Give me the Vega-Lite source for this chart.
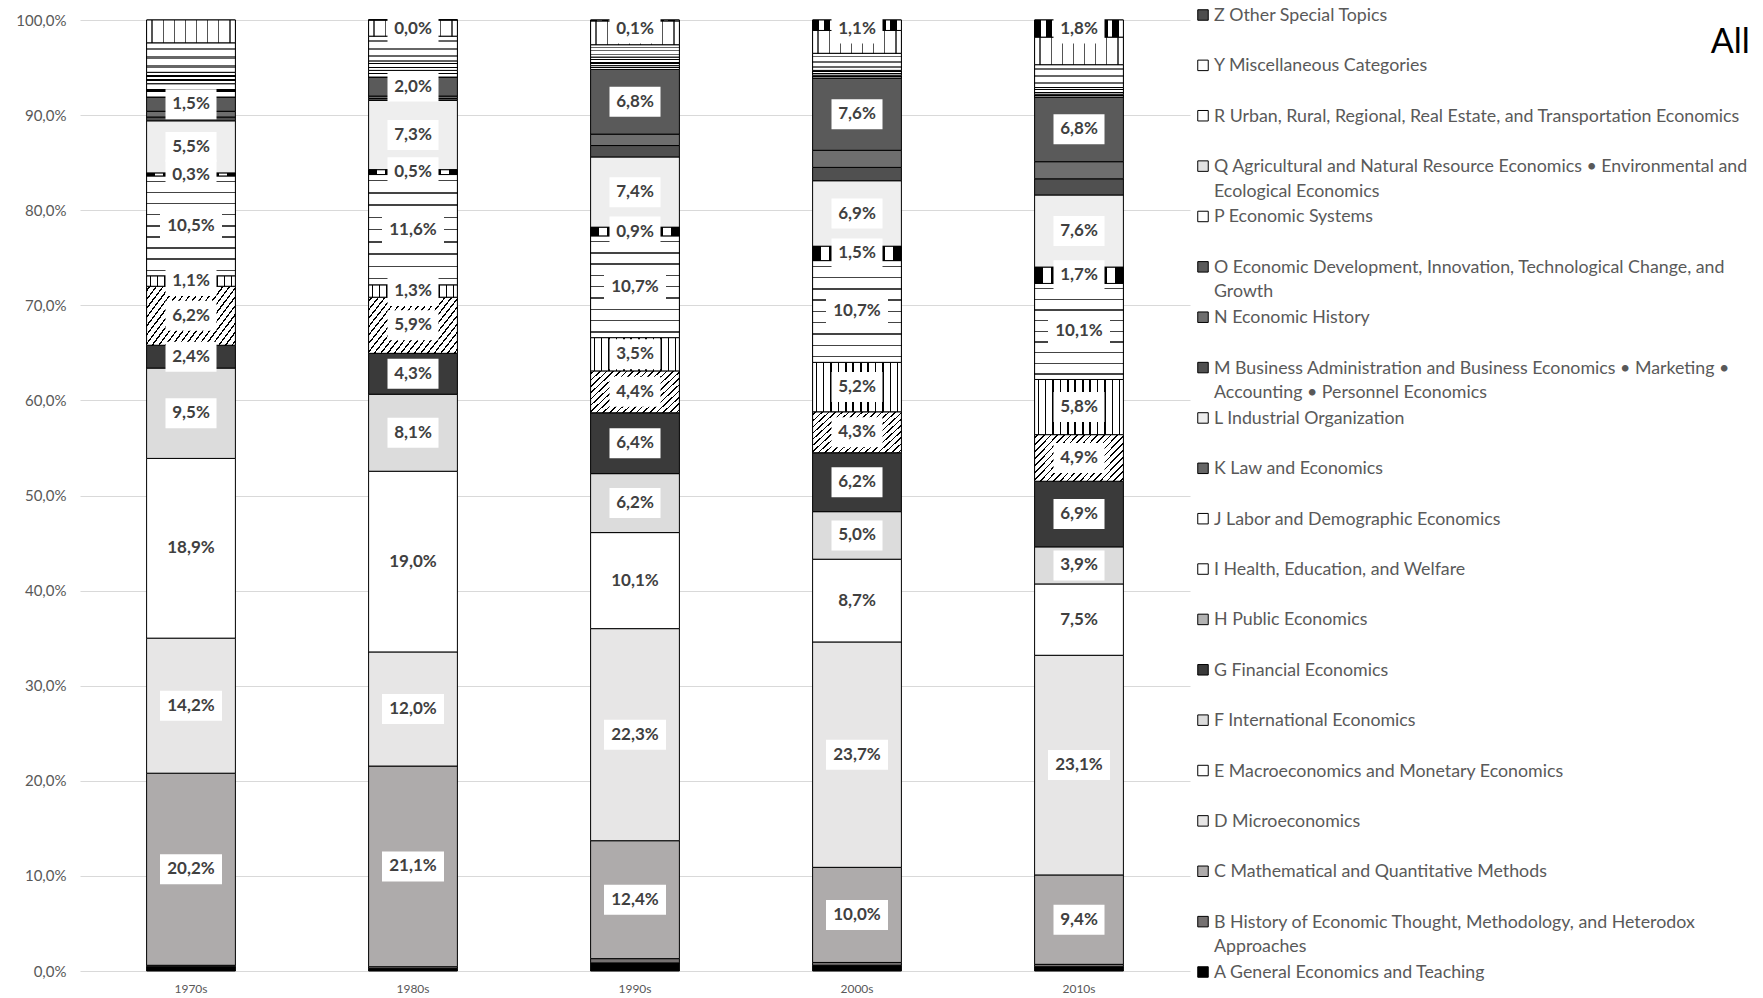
{
  "$schema": "https://vega.github.io/schema/vega-lite/v6.json",
  "background": "white",
  "padding": {"left": 15, "top": 6, "right": 0, "bottom": 0},
  "title": {"text": "All", "anchor": "end", "frame": "bounds", "fontSize": 34, "fontWeight": "normal", "color": "#000000", "font": "Lato", "baseline": "alphabetic", "offset": -80, "dx": 2},
  "datasets": {
    "shares": [
      {"d": "1970s", "k": "A", "v": 0.45}, {"d": "1970s", "k": "B", "v": 0.15}, {"d": "1970s", "k": "C", "v": 20.2}, {"d": "1970s", "k": "D", "v": 14.2},
      {"d": "1970s", "k": "E", "v": 18.9}, {"d": "1970s", "k": "F", "v": 9.5}, {"d": "1970s", "k": "G", "v": 2.4}, {"d": "1970s", "k": "H", "v": 6.2},
      {"d": "1970s", "k": "I", "v": 1.1}, {"d": "1970s", "k": "J", "v": 10.5}, {"d": "1970s", "k": "K", "v": 0.3}, {"d": "1970s", "k": "L", "v": 5.5},
      {"d": "1970s", "k": "M", "v": 0.4}, {"d": "1970s", "k": "N", "v": 0.6}, {"d": "1970s", "k": "O", "v": 1.5}, {"d": "1970s", "k": "P", "v": 1.4},
      {"d": "1970s", "k": "Q", "v": 1.2}, {"d": "1970s", "k": "R", "v": 3.1}, {"d": "1970s", "k": "Y", "v": 2.4},

      {"d": "1980s", "k": "A", "v": 0.25}, {"d": "1980s", "k": "B", "v": 0.2}, {"d": "1980s", "k": "C", "v": 21.1}, {"d": "1980s", "k": "D", "v": 12.0},
      {"d": "1980s", "k": "E", "v": 19.0}, {"d": "1980s", "k": "F", "v": 8.1}, {"d": "1980s", "k": "G", "v": 4.3}, {"d": "1980s", "k": "H", "v": 5.9},
      {"d": "1980s", "k": "I", "v": 1.3}, {"d": "1980s", "k": "J", "v": 11.6}, {"d": "1980s", "k": "K", "v": 0.5}, {"d": "1980s", "k": "L", "v": 7.3},
      {"d": "1980s", "k": "M", "v": 0.2}, {"d": "1980s", "k": "N", "v": 0.25}, {"d": "1980s", "k": "O", "v": 2.0}, {"d": "1980s", "k": "P", "v": 0.7},
      {"d": "1980s", "k": "Q", "v": 1.0}, {"d": "1980s", "k": "R", "v": 2.6}, {"d": "1980s", "k": "Y", "v": 1.7}, {"d": "1980s", "k": "Z", "v": 0.0},

      {"d": "1990s", "k": "A", "v": 0.85}, {"d": "1990s", "k": "B", "v": 0.45}, {"d": "1990s", "k": "C", "v": 12.4}, {"d": "1990s", "k": "D", "v": 22.3},
      {"d": "1990s", "k": "E", "v": 10.1}, {"d": "1990s", "k": "F", "v": 6.2}, {"d": "1990s", "k": "G", "v": 6.4}, {"d": "1990s", "k": "H", "v": 4.4},
      {"d": "1990s", "k": "I", "v": 3.5}, {"d": "1990s", "k": "J", "v": 10.7}, {"d": "1990s", "k": "K", "v": 0.9}, {"d": "1990s", "k": "L", "v": 7.4},
      {"d": "1990s", "k": "M", "v": 1.2}, {"d": "1990s", "k": "N", "v": 1.2}, {"d": "1990s", "k": "O", "v": 6.8}, {"d": "1990s", "k": "P", "v": 0.4},
      {"d": "1990s", "k": "Q", "v": 0.9}, {"d": "1990s", "k": "R", "v": 1.3}, {"d": "1990s", "k": "Y", "v": 2.5}, {"d": "1990s", "k": "Z", "v": 0.1},

      {"d": "2000s", "k": "A", "v": 0.6}, {"d": "2000s", "k": "B", "v": 0.3}, {"d": "2000s", "k": "C", "v": 10.0}, {"d": "2000s", "k": "D", "v": 23.7},
      {"d": "2000s", "k": "E", "v": 8.7}, {"d": "2000s", "k": "F", "v": 5.0}, {"d": "2000s", "k": "G", "v": 6.2}, {"d": "2000s", "k": "H", "v": 4.3},
      {"d": "2000s", "k": "I", "v": 5.2}, {"d": "2000s", "k": "J", "v": 10.7}, {"d": "2000s", "k": "K", "v": 1.5}, {"d": "2000s", "k": "L", "v": 6.9},
      {"d": "2000s", "k": "M", "v": 1.4}, {"d": "2000s", "k": "N", "v": 1.8}, {"d": "2000s", "k": "O", "v": 7.6}, {"d": "2000s", "k": "P", "v": 0.3},
      {"d": "2000s", "k": "Q", "v": 0.5}, {"d": "2000s", "k": "R", "v": 1.8}, {"d": "2000s", "k": "Y", "v": 2.4}, {"d": "2000s", "k": "Z", "v": 1.1},

      {"d": "2010s", "k": "A", "v": 0.45}, {"d": "2010s", "k": "B", "v": 0.25}, {"d": "2010s", "k": "C", "v": 9.4}, {"d": "2010s", "k": "D", "v": 23.1},
      {"d": "2010s", "k": "E", "v": 7.5}, {"d": "2010s", "k": "F", "v": 3.9}, {"d": "2010s", "k": "G", "v": 6.9}, {"d": "2010s", "k": "H", "v": 4.9},
      {"d": "2010s", "k": "I", "v": 5.8}, {"d": "2010s", "k": "J", "v": 10.1}, {"d": "2010s", "k": "K", "v": 1.7}, {"d": "2010s", "k": "L", "v": 7.6},
      {"d": "2010s", "k": "M", "v": 1.7}, {"d": "2010s", "k": "N", "v": 1.8}, {"d": "2010s", "k": "O", "v": 6.8}, {"d": "2010s", "k": "P", "v": 0.3},
      {"d": "2010s", "k": "Q", "v": 0.7}, {"d": "2010s", "k": "R", "v": 2.4}, {"d": "2010s", "k": "Y", "v": 2.9}, {"d": "2010s", "k": "Z", "v": 1.8}
    ],
    "cats": [
      {"k": "Z", "name": "Z Other Special Topics"},
      {"k": "Y", "name": "Y Miscellaneous Categories"},
      {"k": "R", "name": "R Urban, Rural, Regional, Real Estate, and Transportation Economics"},
      {"k": "Q", "name": "Q Agricultural and Natural Resource Economics • Environmental and\nEcological Economics"},
      {"k": "P", "name": "P Economic Systems"},
      {"k": "O", "name": "O Economic Development, Innovation, Technological Change, and\nGrowth"},
      {"k": "N", "name": "N Economic History"},
      {"k": "M", "name": "M Business Administration and Business Economics • Marketing •\nAccounting • Personnel Economics"},
      {"k": "L", "name": "L Industrial Organization"},
      {"k": "K", "name": "K Law and Economics"},
      {"k": "J", "name": "J Labor and Demographic Economics"},
      {"k": "I", "name": "I Health, Education, and Welfare"},
      {"k": "H", "name": "H Public Economics"},
      {"k": "G", "name": "G Financial Economics"},
      {"k": "F", "name": "F International Economics"},
      {"k": "E", "name": "E Macroeconomics and Monetary Economics"},
      {"k": "D", "name": "D Microeconomics"},
      {"k": "C", "name": "C Mathematical and Quantitative Methods"},
      {"k": "B", "name": "B History of Economic Thought, Methodology, and Heterodox\nApproaches"},
      {"k": "A", "name": "A General Economics and Teaching"}
    ]
  },
  "spacing": 5,
  "hconcat": [
    {
      "width": 1110,
      "height": 951,
      "data": {"name": "shares"},
      "transform": [
        {"stack": "v", "groupby": ["d"], "sort": [{"field": "k", "order": "ascending"}], "as": ["y0", "y1"]},
        {"calculate": "min((datum.y0 + datum.y1) / 2, 99.1)", "as": "ym"},
        {"calculate": "replace(format(datum.v, '.1f'), '.', ',') + '%'", "as": "lab"}
      ],
      "encoding": {
        "x": {
          "field": "d", "type": "nominal",
          "sort": ["1970s", "1980s", "1990s", "2000s", "2010s"],
          "scale": {"paddingInner": 0.6, "paddingOuter": 0.3},
          "axis": {"title": null, "labelAngle": 0, "domain": false, "ticks": false, "labelFontSize": 12, "labelColor": "#595959", "labelPadding": 12}
        }
      },
      "layer": [
        {
          "encoding": {
            "y": {
              "field": "y0", "type": "quantitative",
              "scale": {"domain": [0, 100], "nice": false},
              "axis": {
                "title": null,
                "values": [0, 10, 20, 30, 40, 50, 60, 70, 80, 90, 100],
                "labelExpr": "replace(format(datum.value, '.1f'), '.', ',') + '%'",
                "domain": false, "ticks": false,
                "gridColor": "#d9d9d9", "gridWidth": 1,
                "labelFontSize": 15, "labelColor": "#595959", "labelPadding": 14
              }
            },
            "y2": {"field": "y1"}
          },
          "layer": [
            {
              "mark": {"type": "bar", "stroke": "#000000", "strokeWidth": 1},
              "encoding": {
                "fill": {
                  "field": "k", "type": "nominal", "legend": null,
                  "scale": {
                    "domain": ["A", "B", "C", "D", "E", "F", "G", "H", "I", "J", "K", "L", "M", "N", "O", "P", "Q", "R", "Y", "Z"],
                    "range": ["#000000", "#757171", "#aeabab", "#e7e6e6", "#ffffff", "#dcdcdc", "#3a3a3a", "#b3b3b3", "#ffffff", "#ffffff", "#666666", "#eeeeee", "#505050", "#6e6e6e", "#5a5a5a", "#ffffff", "#e3e3e3", "#ffffff", "#ffffff", "#4d4d4d"]
                  }
                }
              }
            },
            {
              "transform": [{"filter": "datum.k === 'H'"}],
              "mark": {"type": "bar", "stroke": "#000000", "strokeWidth": 1, "fill": {
                "gradient": "linear", "x1": 0, "y1": 0, "x2": 1.2, "y2": 0.6,
                "stops": [
                  {"offset": 0, "color": "#fff"},
                  {"offset": 0.019, "color": "#fff"}, {"offset": 0.019, "color": "#000"}, {"offset": 0.031, "color": "#000"}, {"offset": 0.031, "color": "#fff"},
                  {"offset": 0.069, "color": "#fff"}, {"offset": 0.069, "color": "#000"}, {"offset": 0.081, "color": "#000"}, {"offset": 0.081, "color": "#fff"},
                  {"offset": 0.119, "color": "#fff"}, {"offset": 0.119, "color": "#000"}, {"offset": 0.131, "color": "#000"}, {"offset": 0.131, "color": "#fff"},
                  {"offset": 0.169, "color": "#fff"}, {"offset": 0.169, "color": "#000"}, {"offset": 0.181, "color": "#000"}, {"offset": 0.181, "color": "#fff"},
                  {"offset": 0.219, "color": "#fff"}, {"offset": 0.219, "color": "#000"}, {"offset": 0.231, "color": "#000"}, {"offset": 0.231, "color": "#fff"},
                  {"offset": 0.269, "color": "#fff"}, {"offset": 0.269, "color": "#000"}, {"offset": 0.281, "color": "#000"}, {"offset": 0.281, "color": "#fff"},
                  {"offset": 0.319, "color": "#fff"}, {"offset": 0.319, "color": "#000"}, {"offset": 0.331, "color": "#000"}, {"offset": 0.331, "color": "#fff"},
                  {"offset": 0.369, "color": "#fff"}, {"offset": 0.369, "color": "#000"}, {"offset": 0.381, "color": "#000"}, {"offset": 0.381, "color": "#fff"},
                  {"offset": 0.419, "color": "#fff"}, {"offset": 0.419, "color": "#000"}, {"offset": 0.431, "color": "#000"}, {"offset": 0.431, "color": "#fff"},
                  {"offset": 0.469, "color": "#fff"}, {"offset": 0.469, "color": "#000"}, {"offset": 0.481, "color": "#000"}, {"offset": 0.481, "color": "#fff"},
                  {"offset": 0.519, "color": "#fff"}, {"offset": 0.519, "color": "#000"}, {"offset": 0.531, "color": "#000"}, {"offset": 0.531, "color": "#fff"},
                  {"offset": 0.569, "color": "#fff"}, {"offset": 0.569, "color": "#000"}, {"offset": 0.581, "color": "#000"}, {"offset": 0.581, "color": "#fff"},
                  {"offset": 0.619, "color": "#fff"}, {"offset": 0.619, "color": "#000"}, {"offset": 0.631, "color": "#000"}, {"offset": 0.631, "color": "#fff"},
                  {"offset": 0.669, "color": "#fff"}, {"offset": 0.669, "color": "#000"}, {"offset": 0.681, "color": "#000"}, {"offset": 0.681, "color": "#fff"},
                  {"offset": 0.719, "color": "#fff"}, {"offset": 0.719, "color": "#000"}, {"offset": 0.731, "color": "#000"}, {"offset": 0.731, "color": "#fff"},
                  {"offset": 0.769, "color": "#fff"}, {"offset": 0.769, "color": "#000"}, {"offset": 0.781, "color": "#000"}, {"offset": 0.781, "color": "#fff"},
                  {"offset": 0.819, "color": "#fff"}, {"offset": 0.819, "color": "#000"}, {"offset": 0.831, "color": "#000"}, {"offset": 0.831, "color": "#fff"},
                  {"offset": 0.869, "color": "#fff"}, {"offset": 0.869, "color": "#000"}, {"offset": 0.881, "color": "#000"}, {"offset": 0.881, "color": "#fff"},
                  {"offset": 0.919, "color": "#fff"}, {"offset": 0.919, "color": "#000"}, {"offset": 0.931, "color": "#000"}, {"offset": 0.931, "color": "#fff"},
                  {"offset": 0.969, "color": "#fff"}, {"offset": 0.969, "color": "#000"}, {"offset": 0.981, "color": "#000"}, {"offset": 0.981, "color": "#fff"},
                  {"offset": 1, "color": "#fff"}
                ]
              }}
            },
            {
              "transform": [{"filter": "datum.k === 'I'"}],
              "mark": {"type": "bar", "stroke": "#000000", "strokeWidth": 1, "fill": {
                "gradient": "linear", "x1": 0, "y1": 0, "x2": 1, "y2": 0,
                "stops": [
                  {"offset": 0, "color": "#fff"},
                  {"offset": 0.0327, "color": "#fff"}, {"offset": 0.0327, "color": "#000"}, {"offset": 0.0507, "color": "#000"}, {"offset": 0.0507, "color": "#fff"},
                  {"offset": 0.116, "color": "#fff"}, {"offset": 0.116, "color": "#000"}, {"offset": 0.134, "color": "#000"}, {"offset": 0.134, "color": "#fff"},
                  {"offset": 0.1993, "color": "#fff"}, {"offset": 0.1993, "color": "#000"}, {"offset": 0.2173, "color": "#000"}, {"offset": 0.2173, "color": "#fff"},
                  {"offset": 0.2827, "color": "#fff"}, {"offset": 0.2827, "color": "#000"}, {"offset": 0.3007, "color": "#000"}, {"offset": 0.3007, "color": "#fff"},
                  {"offset": 0.366, "color": "#fff"}, {"offset": 0.366, "color": "#000"}, {"offset": 0.384, "color": "#000"}, {"offset": 0.384, "color": "#fff"},
                  {"offset": 0.4493, "color": "#fff"}, {"offset": 0.4493, "color": "#000"}, {"offset": 0.4673, "color": "#000"}, {"offset": 0.4673, "color": "#fff"},
                  {"offset": 0.5327, "color": "#fff"}, {"offset": 0.5327, "color": "#000"}, {"offset": 0.5507, "color": "#000"}, {"offset": 0.5507, "color": "#fff"},
                  {"offset": 0.616, "color": "#fff"}, {"offset": 0.616, "color": "#000"}, {"offset": 0.634, "color": "#000"}, {"offset": 0.634, "color": "#fff"},
                  {"offset": 0.6993, "color": "#fff"}, {"offset": 0.6993, "color": "#000"}, {"offset": 0.7173, "color": "#000"}, {"offset": 0.7173, "color": "#fff"},
                  {"offset": 0.7827, "color": "#fff"}, {"offset": 0.7827, "color": "#000"}, {"offset": 0.8007, "color": "#000"}, {"offset": 0.8007, "color": "#fff"},
                  {"offset": 0.866, "color": "#fff"}, {"offset": 0.866, "color": "#000"}, {"offset": 0.884, "color": "#000"}, {"offset": 0.884, "color": "#fff"},
                  {"offset": 0.9493, "color": "#fff"}, {"offset": 0.9493, "color": "#000"}, {"offset": 0.9673, "color": "#000"}, {"offset": 0.9673, "color": "#fff"},
                  {"offset": 1, "color": "#fff"}
                ]
              }}
            },
            {
              "transform": [{"filter": "datum.k === 'J'"}],
              "mark": {"type": "bar", "stroke": "#000000", "strokeWidth": 1, "fill": {
                "gradient": "linear", "x1": 0, "y1": 0, "x2": 0, "y2": 1,
                "stops": [
                  {"offset": 0, "color": "#fff"},
                  {"offset": 0.0486, "color": "#fff"}, {"offset": 0.0486, "color": "#444"}, {"offset": 0.0626, "color": "#444"}, {"offset": 0.0626, "color": "#fff"},
                  {"offset": 0.1597, "color": "#fff"}, {"offset": 0.1597, "color": "#444"}, {"offset": 0.1737, "color": "#444"}, {"offset": 0.1737, "color": "#fff"},
                  {"offset": 0.2708, "color": "#fff"}, {"offset": 0.2708, "color": "#444"}, {"offset": 0.2848, "color": "#444"}, {"offset": 0.2848, "color": "#fff"},
                  {"offset": 0.3819, "color": "#fff"}, {"offset": 0.3819, "color": "#444"}, {"offset": 0.3959, "color": "#444"}, {"offset": 0.3959, "color": "#fff"},
                  {"offset": 0.493, "color": "#fff"}, {"offset": 0.493, "color": "#444"}, {"offset": 0.507, "color": "#444"}, {"offset": 0.507, "color": "#fff"},
                  {"offset": 0.6041, "color": "#fff"}, {"offset": 0.6041, "color": "#444"}, {"offset": 0.6181, "color": "#444"}, {"offset": 0.6181, "color": "#fff"},
                  {"offset": 0.7152, "color": "#fff"}, {"offset": 0.7152, "color": "#444"}, {"offset": 0.7292, "color": "#444"}, {"offset": 0.7292, "color": "#fff"},
                  {"offset": 0.8263, "color": "#fff"}, {"offset": 0.8263, "color": "#444"}, {"offset": 0.8403, "color": "#444"}, {"offset": 0.8403, "color": "#fff"},
                  {"offset": 0.9374, "color": "#fff"}, {"offset": 0.9374, "color": "#444"}, {"offset": 0.9514, "color": "#444"}, {"offset": 0.9514, "color": "#fff"},
                  {"offset": 1, "color": "#fff"}
                ]
              }}
            },
            {
              "transform": [{"filter": "datum.k === 'K'"}],
              "mark": {"type": "bar", "stroke": "#000000", "strokeWidth": 1, "fill": {
                "gradient": "linear", "x1": 0, "y1": 0, "x2": 1, "y2": 0,
                "stops": [
                  {"offset": 0, "color": "#000"}, {"offset": 0.0909, "color": "#000"}, {"offset": 0.0909, "color": "#fff"}, {"offset": 0.1818, "color": "#fff"},
                  {"offset": 0.1818, "color": "#000"}, {"offset": 0.2727, "color": "#000"}, {"offset": 0.2727, "color": "#fff"}, {"offset": 0.3636, "color": "#fff"},
                  {"offset": 0.3636, "color": "#000"}, {"offset": 0.4545, "color": "#000"}, {"offset": 0.4545, "color": "#fff"}, {"offset": 0.5455, "color": "#fff"},
                  {"offset": 0.5455, "color": "#000"}, {"offset": 0.6364, "color": "#000"}, {"offset": 0.6364, "color": "#fff"}, {"offset": 0.7273, "color": "#fff"},
                  {"offset": 0.7273, "color": "#000"}, {"offset": 0.8182, "color": "#000"}, {"offset": 0.8182, "color": "#fff"}, {"offset": 0.9091, "color": "#fff"},
                  {"offset": 0.9091, "color": "#000"}, {"offset": 1, "color": "#000"}
                ]
              }}
            },
            {
              "transform": [{"filter": "datum.k === 'P'"}],
              "mark": {"type": "bar", "stroke": "#000000", "strokeWidth": 1, "fill": {
                "gradient": "linear", "x1": 0, "y1": 0, "x2": 0, "y2": 1,
                "stops": [
                  {"offset": 0, "color": "#fff"}, {"offset": 0.4, "color": "#fff"}, {"offset": 0.4, "color": "#000"},
                  {"offset": 0.6, "color": "#000"}, {"offset": 0.6, "color": "#fff"}, {"offset": 1, "color": "#fff"}
                ]
              }}
            },
            {
              "transform": [{"filter": "datum.k === 'Q'"}],
              "mark": {"type": "bar", "stroke": "#000000", "strokeWidth": 1, "fill": {
                "gradient": "linear", "x1": 0, "y1": 0, "x2": 0, "y2": 1,
                "stops": [
                  {"offset": 0, "color": "#fff"}, {"offset": 0.23, "color": "#fff"}, {"offset": 0.23, "color": "#000"},
                  {"offset": 0.37, "color": "#000"}, {"offset": 0.37, "color": "#fff"}, {"offset": 0.63, "color": "#fff"},
                  {"offset": 0.63, "color": "#000"}, {"offset": 0.77, "color": "#000"}, {"offset": 0.77, "color": "#fff"},
                  {"offset": 1, "color": "#fff"}
                ]
              }}
            },
            {
              "transform": [{"filter": "datum.k === 'R'"}],
              "mark": {"type": "bar", "stroke": "#000000", "strokeWidth": 1, "fill": {
                "gradient": "linear", "x1": 0, "y1": 0, "x2": 0, "y2": 1,
                "stops": [
                  {"offset": 0, "color": "#fff"}, {"offset": 0.16, "color": "#fff"}, {"offset": 0.16, "color": "#666"},
                  {"offset": 0.24, "color": "#666"}, {"offset": 0.24, "color": "#fff"}, {"offset": 0.46, "color": "#fff"},
                  {"offset": 0.46, "color": "#666"}, {"offset": 0.54, "color": "#666"}, {"offset": 0.54, "color": "#fff"},
                  {"offset": 0.76, "color": "#fff"}, {"offset": 0.76, "color": "#666"}, {"offset": 0.84, "color": "#666"},
                  {"offset": 0.84, "color": "#fff"}, {"offset": 1, "color": "#fff"}
                ]
              }}
            },
            {
              "transform": [{"filter": "datum.k === 'Y'"}],
              "mark": {"type": "bar", "stroke": "#000000", "strokeWidth": 1, "fill": {
                "gradient": "linear", "x1": 0, "y1": 0, "x2": 1, "y2": 0,
                "stops": [
                  {"offset": 0, "color": "#fff"},
                  {"offset": 0.0545, "color": "#fff"}, {"offset": 0.0545, "color": "#555"}, {"offset": 0.0705, "color": "#555"}, {"offset": 0.0705, "color": "#fff"},
                  {"offset": 0.1795, "color": "#fff"}, {"offset": 0.1795, "color": "#555"}, {"offset": 0.1955, "color": "#555"}, {"offset": 0.1955, "color": "#fff"},
                  {"offset": 0.3045, "color": "#fff"}, {"offset": 0.3045, "color": "#555"}, {"offset": 0.3205, "color": "#555"}, {"offset": 0.3205, "color": "#fff"},
                  {"offset": 0.4295, "color": "#fff"}, {"offset": 0.4295, "color": "#555"}, {"offset": 0.4455, "color": "#555"}, {"offset": 0.4455, "color": "#fff"},
                  {"offset": 0.5545, "color": "#fff"}, {"offset": 0.5545, "color": "#555"}, {"offset": 0.5705, "color": "#555"}, {"offset": 0.5705, "color": "#fff"},
                  {"offset": 0.6795, "color": "#fff"}, {"offset": 0.6795, "color": "#555"}, {"offset": 0.6955, "color": "#555"}, {"offset": 0.6955, "color": "#fff"},
                  {"offset": 0.8045, "color": "#fff"}, {"offset": 0.8045, "color": "#555"}, {"offset": 0.8205, "color": "#555"}, {"offset": 0.8205, "color": "#fff"},
                  {"offset": 0.9295, "color": "#fff"}, {"offset": 0.9295, "color": "#555"}, {"offset": 0.9455, "color": "#555"}, {"offset": 0.9455, "color": "#fff"},
                  {"offset": 1, "color": "#fff"}
                ]
              }}
            },
            {
              "transform": [{"filter": "datum.k === 'Z'"}],
              "mark": {"type": "bar", "stroke": "#000000", "strokeWidth": 1, "fill": {
                "gradient": "linear", "x1": 0, "y1": 0, "x2": 1, "y2": 0,
                "stops": [
                  {"offset": 0, "color": "#000"}, {"offset": 0.075, "color": "#000"}, {"offset": 0.075, "color": "#fff"}, {"offset": 0.125, "color": "#fff"},
                  {"offset": 0.125, "color": "#000"}, {"offset": 0.2, "color": "#000"}, {"offset": 0.2, "color": "#fff"}, {"offset": 0.25, "color": "#fff"},
                  {"offset": 0.25, "color": "#000"}, {"offset": 0.325, "color": "#000"}, {"offset": 0.325, "color": "#fff"}, {"offset": 0.375, "color": "#fff"},
                  {"offset": 0.375, "color": "#000"}, {"offset": 0.45, "color": "#000"}, {"offset": 0.45, "color": "#fff"}, {"offset": 0.5, "color": "#fff"},
                  {"offset": 0.5, "color": "#000"}, {"offset": 0.575, "color": "#000"}, {"offset": 0.575, "color": "#fff"}, {"offset": 0.625, "color": "#fff"},
                  {"offset": 0.625, "color": "#000"}, {"offset": 0.7, "color": "#000"}, {"offset": 0.7, "color": "#fff"}, {"offset": 0.75, "color": "#fff"},
                  {"offset": 0.75, "color": "#000"}, {"offset": 0.825, "color": "#000"}, {"offset": 0.825, "color": "#fff"}, {"offset": 0.875, "color": "#fff"},
                  {"offset": 0.875, "color": "#000"}, {"offset": 0.95, "color": "#000"}, {"offset": 0.95, "color": "#fff"}, {"offset": 1, "color": "#fff"}
                ]
              }}
            }
          ]
        },
        {
          "transform": [{"filter": "indexof(['C','D','E','F','G','H','I','J','K','L','O','Z'], datum.k) >= 0"}],
          "mark": {"type": "point", "filled": true, "fill": "#ffffff", "opacity": 1, "size": 400, "strokeWidth": 0},
          "encoding": {
            "y": {"field": "ym", "type": "quantitative", "axis": {"title": null}},
            "shape": {"condition": {"test": "datum.v >= 10", "value": "M-3.1,-1.5H3.1V1.5H-3.1Z"}, "value": "M-2.55,-1.5H2.55V1.5H-2.55Z"}
          }
        },
        {
          "transform": [{"filter": "indexof(['C','D','E','F','G','H','I','J','K','L','O','Z'], datum.k) >= 0"}],
          "mark": {"type": "text", "fontSize": 17, "fontWeight": "bold", "color": "#404040", "baseline": "middle"},
          "encoding": {
            "y": {"field": "ym", "type": "quantitative", "axis": {"title": null}},
            "text": {"field": "lab", "type": "nominal"}
          }
        }
      ]
    },
    {
      "width": 12,
      "height": 951,
      "data": {"name": "cats"},
      "encoding": {
        "y": {"field": "k", "type": "nominal", "sort": "descending", "scale": {"type": "point", "range": [-5, 952], "padding": 0}, "axis": null}
      },
      "layer": [
        {
          "mark": {"type": "square", "size": 110, "filled": true, "stroke": "#000000", "strokeWidth": 1, "opacity": 1},
          "encoding": {
            "fill": {
              "field": "k", "type": "nominal", "legend": null,
              "scale": {
                "domain": ["A", "B", "C", "D", "E", "F", "G", "H", "I", "J", "K", "L", "M", "N", "O", "P", "Q", "R", "Y", "Z"],
                "range": ["#000000", "#757171", "#aeabab", "#e7e6e6", "#ffffff", "#dcdcdc", "#3a3a3a", "#b3b3b3", "#ffffff", "#ffffff", "#666666", "#eeeeee", "#505050", "#6e6e6e", "#5a5a5a", "#ffffff", "#e3e3e3", "#ffffff", "#ffffff", "#4d4d4d"]
              }
            }
          }
        },
        {
          "mark": {"type": "text", "align": "left", "baseline": "alphabetic", "dx": 11, "dy": 6, "fontSize": 17.8, "lineHeight": 24.5, "lineBreak": "\n", "color": "#595959"},
          "encoding": {"text": {"field": "name", "type": "nominal"}}
        }
      ]
    }
  ],
  "config": {"view": {"stroke": null}, "font": "Lato"}
}
